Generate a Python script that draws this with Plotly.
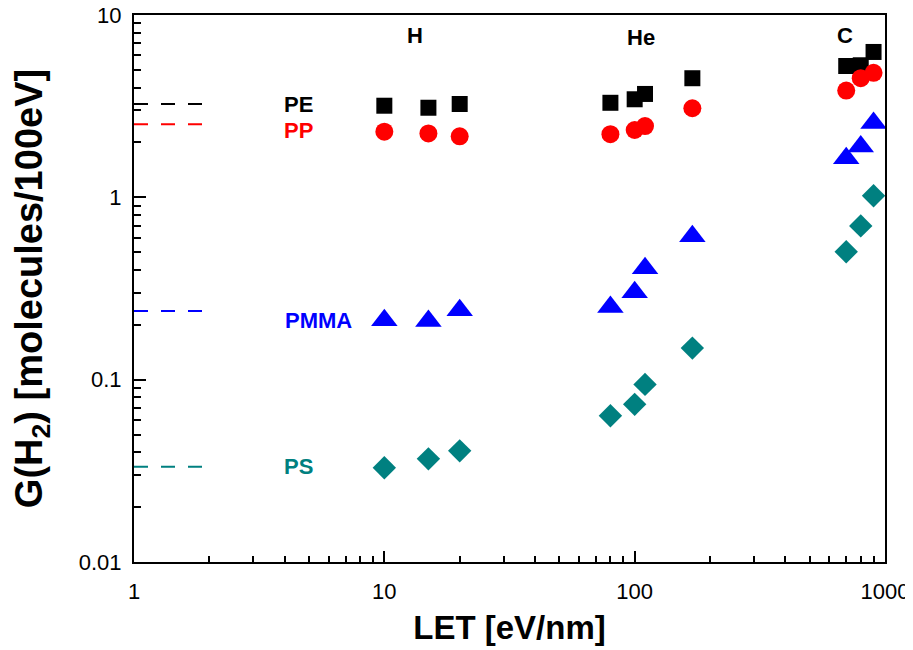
import math
import plotly.graph_objects as go

# LET values (eV/nm) for H, He, C ions
let_vals = [10, 15, 20, 80, 100, 110, 170, 700, 800, 900]

g_pe = [3.18, 3.10, 3.25, 3.30, 3.45, 3.69, 4.5, 5.25, 5.3, 6.27]
g_pp = [2.29, 2.24, 2.16, 2.22, 2.34, 2.46, 3.08, 3.85, 4.5, 4.82]
g_pmma = [0.212, 0.210, 0.240, 0.250, 0.302, 0.409, 0.612, 1.64, 1.90, 2.56]
g_ps = [0.0329, 0.0368, 0.0407, 0.0634, 0.0732, 0.0942, 0.149, 0.503, 0.697, 1.02]

# gamma-ray reference levels (dashed lines at low LET)
ref_x = [1, 2]
ref_pe = 3.25
ref_pp = 2.52
ref_pmma = 0.238
ref_ps = 0.0333

polymers = ["PE", "PP", "PMMA", "PS"]
colors = ["black", "red", "blue", "#008080"]
symbols = ["square", "circle", "triangle-up", "diamond"]
sizes = [16, 18, 23, 18]
series = [g_pe, g_pp, g_pmma, g_ps]
refs = [ref_pe, ref_pp, ref_pmma, ref_ps]

# label positions (data units)
label_x = [4.52, 4.52, 5.48, 4.52]
label_y = [3.25, 2.32, 0.212, 0.0333]

ion_names = ["H", "He", "C"]
ion_x = [13.3, 106, 693]
ion_y = [7.76, 7.57, 7.76]

FONT = "Arial, 'Liberation Sans', sans-serif"

fig = go.Figure()
for name, col, sym, sz, ys, rv in zip(polymers, colors, symbols, sizes, series, refs):
    fig.add_trace(go.Scatter(x=ref_x, y=[rv, rv], mode="lines",
                             line=dict(color=col, width=2, dash="14px,13px"),
                             showlegend=False, hoverinfo="skip"))
    fig.add_trace(go.Scatter(x=let_vals, y=ys, mode="markers", name=name,
                             marker=dict(symbol=sym, size=sz, color=col,
                                         line=dict(width=0)),
                             showlegend=False, cliponaxis=False))

for name, col, lx, ly in zip(polymers, colors, label_x, label_y):
    fig.add_annotation(x=math.log10(lx), y=math.log10(ly), xref="x", yref="y",
                       text="<b>%s</b>" % name, showarrow=False,
                       font=dict(family=FONT, size=22, color=col),
                       xanchor="center", yanchor="middle")

for name, ix, iy in zip(ion_names, ion_x, ion_y):
    fig.add_annotation(x=math.log10(ix), y=math.log10(iy), xref="x", yref="y",
                       text="<b>%s</b>" % name, showarrow=False,
                       font=dict(family=FONT, size=22, color="black"),
                       xanchor="center", yanchor="middle")

fig.update_layout(
    template="none",
    width=913, height=650,
    margin=dict(l=126, r=36, t=7, b=96),
    paper_bgcolor="white", plot_bgcolor="white",
    font=dict(family=FONT, size=22, color="black"),
)
fig.update_xaxes(
    type="log", range=[0, 3], showgrid=False, zeroline=False, automargin=False,
    showline=True, linecolor="black", linewidth=2, mirror=True,
    ticks="inside", ticklen=11, tickwidth=1.5, tickcolor="black",
    tickvals=[1, 10, 100, 1000], ticktext=["1", "10", "100", "1000"],
    tickfont=dict(family=FONT, size=22), ticklabelstandoff=9,
    ticklabeloverflow="allow",
    minor=dict(ticks="inside", ticklen=6, tickwidth=1.5, tickcolor="black",
               tickvals=[2, 3, 4, 5, 6, 7, 8, 9, 20, 30, 40, 50, 60, 70, 80, 90,
                         200, 300, 400, 500, 600, 700, 800, 900], showgrid=False),
    title=dict(text="<b>LET [eV/nm]</b>", font=dict(family=FONT, size=33), standoff=12),
)
fig.update_yaxes(
    type="log", range=[-2, 1], showgrid=False, zeroline=False, automargin=False,
    showline=True, linecolor="black", linewidth=2, mirror=True,
    ticks="inside", ticklen=12, tickwidth=1.5, tickcolor="black",
    tickvals=[0.01, 0.1, 1, 10], ticktext=["0.01", "0.1", "1", "10"],
    tickfont=dict(family=FONT, size=22), ticklabelstandoff=6,
    ticklabeloverflow="allow",
    minor=dict(ticks="inside", ticklen=7, tickwidth=1.5, tickcolor="black",
               tickvals=[0.02, 0.03, 0.04, 0.05, 0.06, 0.07, 0.08, 0.09,
                         0.2, 0.3, 0.4, 0.5, 0.6, 0.7, 0.8, 0.9,
                         2, 3, 4, 5, 6, 7, 8, 9], showgrid=False),
    title=dict(text="<b>G(H<sub>2</sub>) [molecules/100eV]</b>",
               font=dict(family=FONT, size=38), standoff=24),
)

fig.write_html("out.html")
